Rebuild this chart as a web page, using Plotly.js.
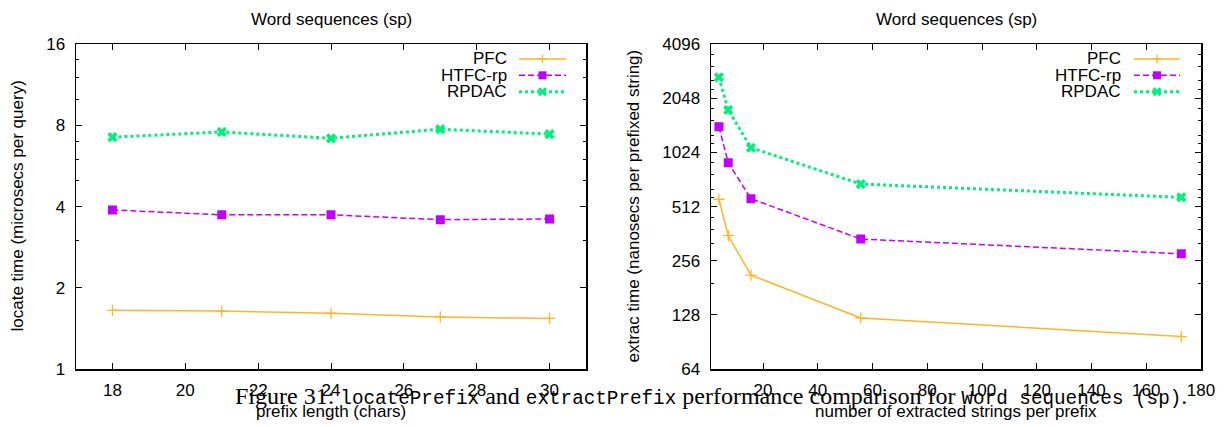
<!DOCTYPE html>
<html>
<head>
<meta charset="utf-8">
<script src="https://cdn.plot.ly/plotly-3.0.1.min.js"></script>
<style>html,body{margin:0;padding:0;background:#fff;}</style>
</head>
<body>
<div id="chart" style="width:1225px;height:427px;"></div>
<script>
// locatePrefix: prefix length (chars) vs. locate time (microsecs per query)
const prefixLen   = [18, 21, 24, 27, 30];
const locatePFC   = [1.65, 1.64, 1.61, 1.56, 1.54];
const locateHTFC  = [3.89, 3.73, 3.73, 3.58, 3.60];
const locateRPDAC = [7.24, 7.57, 7.17, 7.75, 7.43];

// extractPrefix: strings extracted per prefix vs. time per extracted string (ns)
const extractCount = [3.9, 7.3, 15.6, 55.7, 172.8];
const extractPFC   = [563, 353, 213, 123, 97];
const extractHTFC  = [1425, 899, 567, 338, 280];
const extractRPDAC = [2684, 1766, 1089, 684, 577];

const seriesNames = ['PFC', 'HTFC-rp', 'RPDAC'];

// axis tick labels
const locateTicks  = [1, 2, 4, 8, 16];
const locateMinor  = [3, 5, 6, 7, 10, 12, 14];
const extractTicks = [64, 128, 256, 512, 1024, 2048, 4096];
const extractMinor = [192, 320, 384, 448, 576, 640, 768, 896, 1152, 1280, 1536, 1792, 2304, 2560, 3072, 3584];
const lengthTicks  = [18, 20, 22, 24, 26, 28, 30];
const countTicks   = [20, 40, 60, 80, 100, 120, 140, 160, 180];

const W = 1225, H = 427;
const px = x => x / W;
const py = y => 1 - y / H;

const styles = {
  'PFC':     {color: '#ffb428', dash: 'solid',   width: 1.5, symbol: 'cross-thin-open', size: 8, mline: 1.3},
  'HTFC-rp': {color: '#c000ff', dash: '6px,3px', width: 1.5, symbol: 'square',          size: 9, mline: 0},
  'RPDAC':   {color: '#00f07a', dash: 'dot',     width: 3,   symbol: 'x',               size: 9, mline: 0}
};

function trace(name, x, y, xa, ya) {
  const s = styles[name];
  return {
    type: 'scatter', mode: 'lines+markers', name: name, x: x, y: y,
    xaxis: xa, yaxis: ya, showlegend: false,
    line: {color: s.color, width: s.width, dash: s.dash},
    marker: {symbol: s.symbol, size: s.size, color: s.color,
             line: {color: s.color, width: s.mline}}
  };
}

const data = [
  trace('PFC',     prefixLen, locatePFC,   'x',  'y'),
  trace('HTFC-rp', prefixLen, locateHTFC,  'x',  'y'),
  trace('RPDAC',   prefixLen, locateRPDAC, 'x',  'y'),
  trace('PFC',     extractCount, extractPFC,   'x2', 'y2'),
  trace('HTFC-rp', extractCount, extractHTFC,  'x2', 'y2'),
  trace('RPDAC',   extractCount, extractRPDAC, 'x2', 'y2')
];

const sans = 'Liberation Sans, Arial, sans-serif';
const tickFont = {family: sans, size: 17, color: '#000'};
const baseAxis = {
  showline: true, linecolor: '#000', linewidth: 1.5, mirror: 'allticks',
  ticks: 'inside', ticklen: 6, tickwidth: 1, tickcolor: '#000',
  showgrid: false, zeroline: false, tickfont: tickFont, automargin: false
};
const minorLog = vals => ({tickmode: 'array', tickvals: vals, ticks: 'inside', ticklen: 3, tickwidth: 1, tickcolor: '#000', showgrid: false});

const plotTop = 44.3, plotBottom = 369;
const layout = {
  width: W, height: H,
  margin: {l: 0, r: 0, t: 0, b: 0},
  paper_bgcolor: '#fff', plot_bgcolor: '#fff',
  showlegend: false,
  xaxis: Object.assign({}, baseAxis, {
    domain: [px(76), px(586)], range: [17, 31], anchor: 'y',
    tickmode: 'array', tickvals: lengthTicks, ticklabelstandoff: 5
  }),
  yaxis: Object.assign({}, baseAxis, {
    domain: [py(plotBottom), py(plotTop)], type: 'log', range: [0, Math.log10(16)], anchor: 'x',
    tickmode: 'array', tickvals: locateTicks, ticktext: locateTicks.map(String),
    minor: minorLog(locateMinor), ticklabelstandoff: 6
  }),
  xaxis2: Object.assign({}, baseAxis, {
    domain: [px(711), px(1201)], range: [1, 180], anchor: 'y2',
    tickmode: 'array', tickvals: countTicks, ticklabelstandoff: 5
  }),
  yaxis2: Object.assign({}, baseAxis, {
    domain: [py(plotBottom), py(plotTop)], type: 'log', range: [Math.log10(64), Math.log10(4096)], anchor: 'x2',
    tickmode: 'array', tickvals: extractTicks, ticktext: extractTicks.map(String),
    minor: minorLog(extractMinor), ticklabelstandoff: 6
  }),
  annotations: [],
  shapes: []
};

const textFont = {family: sans, size: 17, color: '#000'};
function label(text, x, y, opts) {
  layout.annotations.push(Object.assign({
    text: text, x: px(x), y: py(y), xref: 'paper', yref: 'paper',
    showarrow: false, xanchor: 'center', yanchor: 'middle', font: textFont
  }, opts || {}));
}

// panel titles and axis titles
label('Word sequences (sp)', 331, 19);
label('Word sequences (sp)', 956, 19);
label('prefix length (chars)', 331, 411);
label('number of extracted strings per prefix', 956, 411);
label('locate time (microsecs per query)', 17, 206.5, {textangle: -90});
label('extrac time (nanosecs per prefixed string)', 633, 206.5, {textangle: -90});

// key boxes, gnuplot style: right-aligned text followed by a line sample
const keyRows = [59, 75.3, 91.8];
function addKey(textRight, sampleL, sampleR) {
  seriesNames.forEach((name, i) => {
    const s = styles[name];
    const y = keyRows[i];
    label(name, textRight, y, {xanchor: 'right'});
    layout.shapes.push({type: 'line', xref: 'paper', yref: 'paper',
      x0: px(sampleL), x1: px(sampleR), y0: py(y), y1: py(y),
      line: {color: s.color, width: s.width, dash: s.dash}});
    const cx = (sampleL + sampleR) / 2;
    if (name === 'PFC') {
      layout.shapes.push({type: 'line', xref: 'paper', yref: 'paper', x0: px(cx - 4), x1: px(cx + 4), y0: py(y), y1: py(y), line: {color: s.color, width: 1.3}});
      layout.shapes.push({type: 'line', xref: 'paper', yref: 'paper', x0: px(cx), x1: px(cx), y0: py(y - 4), y1: py(y + 4), line: {color: s.color, width: 1.3}});
    } else if (name === 'HTFC-rp') {
      layout.shapes.push({type: 'rect', xref: 'paper', yref: 'paper', x0: px(cx - 4), x1: px(cx + 4), y0: py(y - 4), y1: py(y + 4), fillcolor: s.color, line: {width: 0}});
    } else {
      layout.shapes.push({type: 'line', xref: 'paper', yref: 'paper', x0: px(cx - 3.5), x1: px(cx + 3.5), y0: py(y - 3.5), y1: py(y + 3.5), line: {color: s.color, width: 3}});
      layout.shapes.push({type: 'line', xref: 'paper', yref: 'paper', x0: px(cx - 3.5), x1: px(cx + 3.5), y0: py(y + 3.5), y1: py(y - 3.5), line: {color: s.color, width: 3}});
    }
  });
}
addKey(509, 519, 566);
addKey(1123, 1134, 1180);

// figure caption typeset across both panels
const tt = t => '<span style="font-family:Liberation Mono,Courier New,monospace;font-size:19.3px">' + t + '</span>';
label('Figure 31: ' + tt('locatePrefix') + ' and ' + tt('extractPrefix') +
      ' performance comparison for ' + tt('Word sequences (sp)') + '.',
      233, 396, {xanchor: 'left',
      font: {family: 'Liberation Serif, Times New Roman, serif', size: 24, color: '#000'}});

Plotly.newPlot('chart', data, layout, {staticPlot: true, displayModeBar: false});
</script>
</body>
</html>
